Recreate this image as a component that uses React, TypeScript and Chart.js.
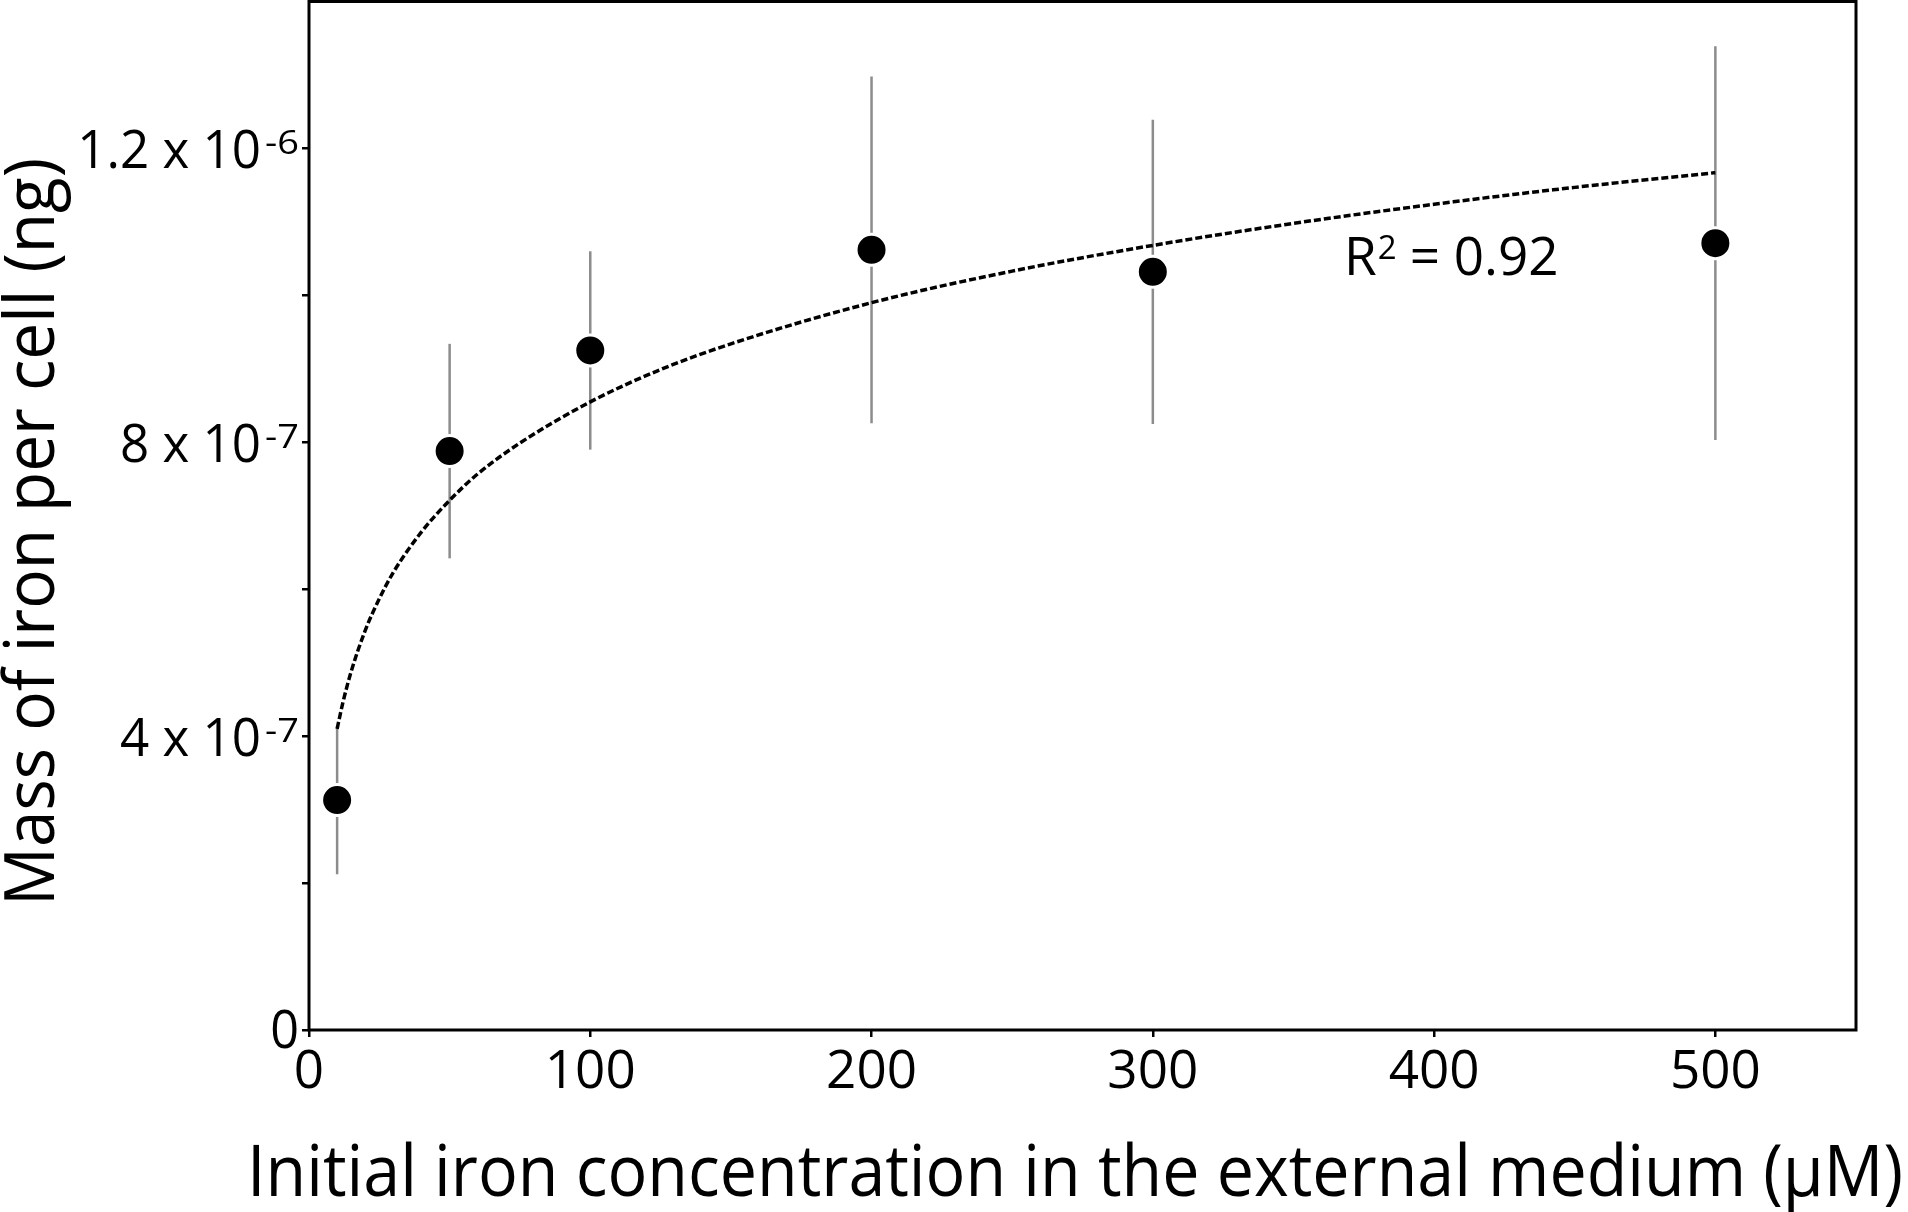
import React, { useEffect, useRef } from 'react';
import { Chart, registerables } from 'chart.js';

Chart.register(...registerables);

// ---- data ----
const concentrations = [10, 50, 100, 200, 300, 500];
const ironMass = [3.13e-7, 7.88e-7, 9.25e-7, 1.062e-6, 1.032e-6, 1.071e-6];
const ironErr = [1.01e-7, 1.46e-7, 1.35e-7, 2.36e-7, 2.07e-7, 2.68e-7];

// fitted (logarithmic) trend line
const fitX = [10, 12, 15, 20, 25, 30, 40, 50, 60, 75, 100, 125, 150, 200, 250, 300, 350, 400, 450, 500];
const fitY = [4.1e-7, 4.45e-7, 4.88e-7, 5.44e-7, 5.87e-7, 6.23e-7, 6.78e-7, 7.21e-7, 7.57e-7, 7.99e-7, 8.55e-7, 8.99e-7, 9.34e-7, 9.9e-7, 1.033e-6, 1.068e-6, 1.098e-6, 1.124e-6, 1.147e-6, 1.167e-6];

const xTicks = [0, 100, 200, 300, 400, 500];
const xTickLabels = ['0', '100', '200', '300', '400', '500'];
const yTicks = [0, 2e-7, 4e-7, 6e-7, 8e-7, 1e-6, 1.2e-6];
const yTickBase = ['0', '', '4 x 10', '', '8 x 10', '', '1.2 x 10'];
const yTickExp = ['', '', '-7', '', '-7', '', '-6'];

const xTitle = 'Initial iron concentration in the external medium (μM)';
const yTitle = 'Mass of iron per cell (ng)';
const rLabel = 'R';
const rExp = '2';
const rValue = '= 0.92';
const rPos = { x: 368, y: 1.028e-6 };

const FONT = "'Open Sans', 'DejaVu Sans', sans-serif";

function drawText(
  ctx: CanvasRenderingContext2D,
  text: string,
  x: number,
  y: number,
  size: number,
  align: 'left' | 'right' | 'center',
  sx = 1
) {
  ctx.save();
  ctx.font = `${size}px ${FONT}`;
  ctx.textBaseline = 'alphabetic';
  ctx.textAlign = 'left';
  const w = ctx.measureText(text).width * sx;
  const x0 = align === 'right' ? x - w : align === 'center' ? x - w / 2 : x;
  ctx.translate(x0, y);
  ctx.scale(sx, 1);
  ctx.fillText(text, 0, 0);
  ctx.restore();
  return w;
}

const errorBarPlugin = {
  id: 'errorBars',
  beforeDatasetsDraw(chart: any) {
    const { ctx, scales } = chart;
    const x = scales.x;
    const y = scales.y;
    ctx.save();
    ctx.strokeStyle = '#8c8c8c';
    ctx.lineWidth = 2.5;
    concentrations.forEach((c, i) => {
      const px = x.getPixelForValue(c);
      const top = y.getPixelForValue(ironMass[i] + ironErr[i]);
      const bot = y.getPixelForValue(ironMass[i] - ironErr[i]);
      ctx.beginPath();
      ctx.moveTo(px, top);
      ctx.lineTo(px, bot);
      ctx.stroke();
    });
    ctx.restore();
  },
};

const textPlugin = {
  id: 'texts',
  afterDraw(chart: any) {
    const { ctx, chartArea, scales } = chart;
    const x = scales.x;
    const y = scales.y;
    ctx.save();
    // frame
    ctx.strokeStyle = '#000';
    ctx.lineWidth = 3;
    ctx.strokeRect(chartArea.left, chartArea.top, chartArea.right - chartArea.left, chartArea.bottom - chartArea.top);
    ctx.fillStyle = '#000';

    // x tick labels
    xTicks.forEach((v, i) => {
      drawText(ctx, xTickLabels[i], x.getPixelForValue(v), chartArea.bottom + 58, 53, 'center', 1);
    });

    // y tick labels with superscripts
    const rightEdge = chartArea.left - 10;
    yTicks.forEach((v, i) => {
      const py = y.getPixelForValue(v);
      if (!yTickBase[i]) return;
      if (yTickExp[i]) {
        const supW = drawText(ctx, yTickExp[i], rightEdge, py + 6, 33, 'right', 1.15);
        drawText(ctx, yTickBase[i], rightEdge - supW - 4, py + 20, 53, 'right', 0.965);
      } else {
        drawText(ctx, yTickBase[i], rightEdge, py + 18, 53, 'right', 0.95);
      }
    });

    // R^2 annotation
    const rx = x.getPixelForValue(rPos.x);
    const ry = y.getPixelForValue(rPos.y);
    const w1 = drawText(ctx, rLabel, rx, ry, 53, 'left', 1);
    const w2 = drawText(ctx, rExp, rx + w1 + 1, ry - 16, 33, 'left', 1);
    drawText(ctx, rValue, rx + w1 + w2 + 14, ry, 53, 'left', 1);

    // x title
    ctx.font = `72px ${FONT}`;
    const xw = ctx.measureText(xTitle).width;
    drawText(ctx, xTitle, 247, 1196, 72, 'left', 1656 / xw);

    // y title (rotated)
    ctx.font = `70px ${FONT}`;
    const yw = ctx.measureText(yTitle).width;
    ctx.save();
    ctx.translate(54, 532);
    ctx.rotate(-Math.PI / 2);
    drawText(ctx, yTitle, 0, 0, 70, 'center', 748 / yw);
    ctx.restore();

    ctx.restore();
  },
};

export default function App() {
  const canvasRef = useRef<HTMLCanvasElement | null>(null);

  useEffect(() => {
    const canvas = canvasRef.current;
    if (!canvas) return;
    const chart = new Chart(canvas, {
      type: 'scatter',
      data: {
        datasets: [
          {
            type: 'line',
            label: 'fit',
            data: fitX.map((v, i) => ({ x: v, y: fitY[i] })),
            borderColor: '#000',
            borderWidth: 3.5,
            borderDash: [7, 3],
            pointRadius: 0,
            fill: false,
            cubicInterpolationMode: 'monotone',
            order: 2,
          },
          {
            label: 'mass',
            data: concentrations.map((v, i) => ({ x: v, y: ironMass[i] })),
            backgroundColor: '#000',
            borderColor: '#fff',
            borderWidth: 3,
            pointRadius: 15.5,
            pointHoverRadius: 15.5,
            order: 1,
          },
        ],
      },
      options: {
        responsive: false,
        animation: false,
        devicePixelRatio: 1,
        layout: { autoPadding: false, padding: { top: 1.5, right: 52, left: 0, bottom: 0 } },
        plugins: { legend: { display: false }, tooltip: { enabled: false } },
        scales: {
          x: {
            type: 'linear',
            min: 0,
            max: 550,
            afterBuildTicks: (scale: any) => {
              scale.ticks = xTicks.map((v) => ({ value: v }));
            },
            afterFit: (scale: any) => {
              scale.height = 182;
            },
            ticks: { display: false },
            grid: { drawOnChartArea: false, drawTicks: true, tickLength: 7, lineWidth: 2.5, color: '#000' },
            border: { display: false },
          },
          y: {
            type: 'linear',
            min: 0,
            max: 1.4e-6,
            afterBuildTicks: (scale: any) => {
              scale.ticks = yTicks.map((v) => ({ value: v }));
            },
            afterFit: (scale: any) => {
              scale.width = 309;
            },
            ticks: { display: false },
            grid: { drawOnChartArea: false, drawTicks: true, tickLength: 7, lineWidth: 2.5, color: '#000' },
            border: { display: false },
          },
        },
      },
      plugins: [errorBarPlugin, textPlugin],
    } as any);
    return () => chart.destroy();
  }, []);

  return (
    <div style={{ position: 'fixed', left: 0, top: 0, width: 1908, height: 1212, background: '#fff' }}>
      <canvas ref={canvasRef} width={1908} height={1212} style={{ width: 1908, height: 1212, display: 'block' }} />
    </div>
  );
}
